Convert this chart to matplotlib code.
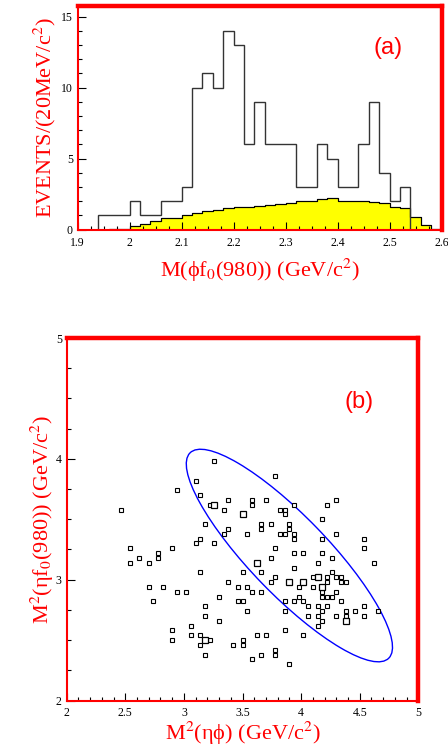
import numpy as np
import matplotlib
matplotlib.use("Agg")
from matplotlib import pyplot as plt
from matplotlib.patches import Ellipse

plt.rcParams['font.family'] = ['Liberation Serif', 'DejaVu Serif']
plt.rcParams['mathtext.fontset'] = 'stix'

# (a) histogram, 20 MeV bins from 1.90 to 2.60
bin_edges = np.round(np.arange(1.90, 2.6001, 0.02), 2)
data_counts = [0, 0, 1, 1, 1, 2, 1, 1, 2, 2, 3, 10, 11, 10, 14, 13, 6, 9, 6, 6,
               6, 3, 3, 6, 5, 3, 3, 6, 9, 4, 2, 3, 0, 0, 0]
bkg_counts = [0, 0, 0, 0.02, 0.08, 0.25, 0.4, 0.6, 0.8, 0.85, 1.0, 1.15, 1.3, 1.4,
              1.55, 1.6, 1.6, 1.7, 1.75, 1.8, 1.9, 2.0, 2.0, 2.15, 2.2, 2.0, 2.05,
              2.0, 1.95, 1.85, 1.6, 1.5, 0.9, 0.35, 0.05]
xticks_a = [1.9, 2.0, 2.1, 2.2, 2.3, 2.4, 2.5, 2.6]
xlabels_a = ['1.9', '2', '2.1', '2.2', '2.3', '2.4', '2.5', '2.6']
yticks_a = [0, 5, 10, 15]

# (b) Dalitz plot points
m2_etaphi = [2.46, 2.54, 2.54, 2.62, 2.70, 2.70, 2.74, 2.78, 2.78, 2.82, 2.90, 2.94,
             2.94, 3.02, 2.90, 2.90, 3.06, 3.06, 3.10, 3.10, 3.14, 3.14, 3.14, 3.14,
             3.14, 3.18, 3.18, 3.18, 3.18, 3.22, 3.22, 3.26, 3.26, 3.30, 3.30, 3.34,
             3.34, 3.38, 3.38, 3.38, 3.42, 3.46, 3.46, 3.50, 3.50, 3.50, 3.50, 3.54,
             3.54, 3.54, 3.58, 3.58, 3.58, 3.58, 3.62, 3.66, 3.66, 3.66, 3.66, 3.66,
             3.70, 3.70, 3.74, 3.74, 3.74, 3.78, 3.78, 3.78, 3.78, 3.78, 3.82, 3.82,
             3.86, 3.86, 3.86, 3.86, 3.86, 3.86, 3.90, 3.90, 3.90, 3.94, 3.94, 3.94,
             3.94, 3.94, 3.94, 3.98, 3.98, 4.02, 4.02, 4.02, 4.06, 4.06, 4.10, 4.10,
             4.14, 4.14, 4.14, 4.14, 4.18, 4.18, 4.18, 4.18, 4.18, 4.18, 4.18, 4.22,
             4.22, 4.22, 4.22, 4.22, 4.26, 4.26, 4.26, 4.30, 4.30, 4.30, 4.30, 4.30,
             4.34, 4.34, 4.34, 4.38, 4.38, 4.38, 4.46, 4.54, 4.54, 4.54, 4.54, 4.62,
             4.66]
m2_etaf0 = [3.58, 3.26, 3.14, 3.18, 3.14, 2.94, 2.82, 3.22, 3.18, 2.94, 3.26, 3.74,
            2.90, 2.90, 2.58, 2.50, 2.62, 2.54, 3.82, 3.30, 3.70, 3.34, 3.06, 2.54,
            2.46, 3.46, 2.78, 2.70, 2.38, 3.62, 2.50, 3.98, 3.30, 2.86, 2.66, 3.58,
            3.38, 3.66, 3.42, 2.98, 2.46, 2.94, 2.82, 3.06, 2.82, 2.50, 2.46, 3.38,
            2.94, 2.74, 3.66, 3.62, 2.90, 2.34, 2.54, 3.46, 3.42, 3.06, 2.90, 2.38,
            3.66, 2.54, 3.46, 3.18, 2.98, 3.86, 3.26, 3.02, 2.42, 2.38, 3.58, 3.38,
            3.58, 3.54, 3.38, 2.82, 2.74, 2.58, 3.46, 3.42, 2.30, 3.62, 3.38, 3.34,
            3.22, 3.10, 2.82, 2.94, 2.86, 3.22, 2.82, 2.54, 2.78, 2.70, 3.02, 2.94,
            3.14, 2.78, 2.70, 2.62, 3.50, 3.34, 3.22, 2.90, 2.86, 2.74, 2.66, 3.62,
            3.02, 2.98, 2.86, 2.78, 3.18, 3.06, 2.86, 3.66, 3.38, 3.02, 2.90, 2.70,
            3.02, 2.98, 2.82, 2.98, 2.74, 2.70, 2.74, 3.34, 3.26, 2.78, 2.70, 3.14,
            2.74]
# cells holding two entries (drawn as bigger boxes)
big_x = [3.18, 3.26, 3.50, 3.62, 3.90, 4.02, 4.14, 4.18, 4.38]
big_y = [2.50, 3.62, 3.54, 3.14, 2.98, 2.98, 3.02, 2.94, 2.66]
xticks_b = [2, 2.5, 3, 3.5, 4, 4.5, 5]
xlabels_b = ['2', '2.5', '3', '3.5', '4', '4.5', '5']
yticks_b = [2, 3, 4, 5]

fig = plt.figure(figsize=(4.48, 7.51), dpi=100)


def frame(ax):
    for side in ['left', 'bottom']:
        ax.spines[side].set_color('red')
        ax.spines[side].set_linewidth(1.5)
    for side in ['top', 'right']:
        ax.spines[side].set_color('red')
        ax.spines[side].set_linewidth(3.2)
    ax.tick_params(which='both', direction='in', colors='black', labelsize=8.5)
    ax.tick_params(which='major', length=6, width=0.8)
    ax.tick_params(which='minor', length=3, width=0.8)
    ax.tick_params(axis='x', pad=5)


# ---- panel (a)
ax1 = fig.add_axes([0.1734, 0.6942, 0.8125, 0.2979])
ax1.stairs(bkg_counts, bin_edges, fill=True, facecolor='yellow',
           edgecolor='black', linewidth=0.8)
ax1.stairs(bkg_counts, bin_edges, color='black', linewidth=0.8)
ax1.stairs(data_counts, bin_edges, color='#333333', linewidth=1.0)
ax1.set_xlim(1.9, 2.6)
ax1.set_ylim(0, 15.75)
ax1.set_xticks(xticks_a)
ax1.set_xticklabels(xlabels_a)
ax1.set_yticks(yticks_a)
ax1.xaxis.set_minor_locator(plt.MultipleLocator(0.025))
ax1.yaxis.set_minor_locator(plt.MultipleLocator(1))
frame(ax1)
ax1.set_xlabel('M(ϕf$_0$(980)) (GeV/c$^2$)', color='red', fontsize=16,
               labelpad=6)
ax1.set_ylabel('EVENTS/(20MeV/c$^2$)', color='red', fontsize=16, labelpad=2)
ax1.text(0.852, 0.812, '(a)', transform=ax1.transAxes, color='red',
         fontsize=17, family='Liberation Sans', ha='center', va='center')

# ---- panel (b)
ax2 = fig.add_axes([0.1488, 0.0672, 0.785, 0.4827])
ax2.plot(m2_etaphi, m2_etaf0, 's', ms=3, mfc='white', mec='black', mew=0.8,
         linestyle='none')
ax2.plot(big_x, big_y, 's', ms=4.3, mfc='white', mec='black', mew=0.9,
         linestyle='none')
ax2.add_patch(Ellipse((3.9, 3.2), 2.4, 0.655, angle=-45, fill=False,
                      edgecolor='blue', linewidth=1.0))
ax2.set_xlim(2, 5)
ax2.set_ylim(2, 5)
ax2.set_xticks(xticks_b)
ax2.set_xticklabels(xlabels_b)
ax2.set_yticks(yticks_b)
ax2.xaxis.set_minor_locator(plt.MultipleLocator(0.1))
ax2.yaxis.set_minor_locator(plt.MultipleLocator(0.25))
frame(ax2)
ax2.set_xlabel('M$^2$(ηϕ) (GeV/c$^2$)', color='red', fontsize=16,
               labelpad=0)
ax2.set_ylabel('M$^2$(ηf$_0$(980)) (GeV/c$^2$)', color='red',
               fontsize=16, labelpad=0)
ax2.text(0.831, 0.824, '(b)', transform=ax2.transAxes, color='red',
         fontsize=17, family='Liberation Sans', ha='center', va='center')

fig.savefig('out.png', dpi=100)
